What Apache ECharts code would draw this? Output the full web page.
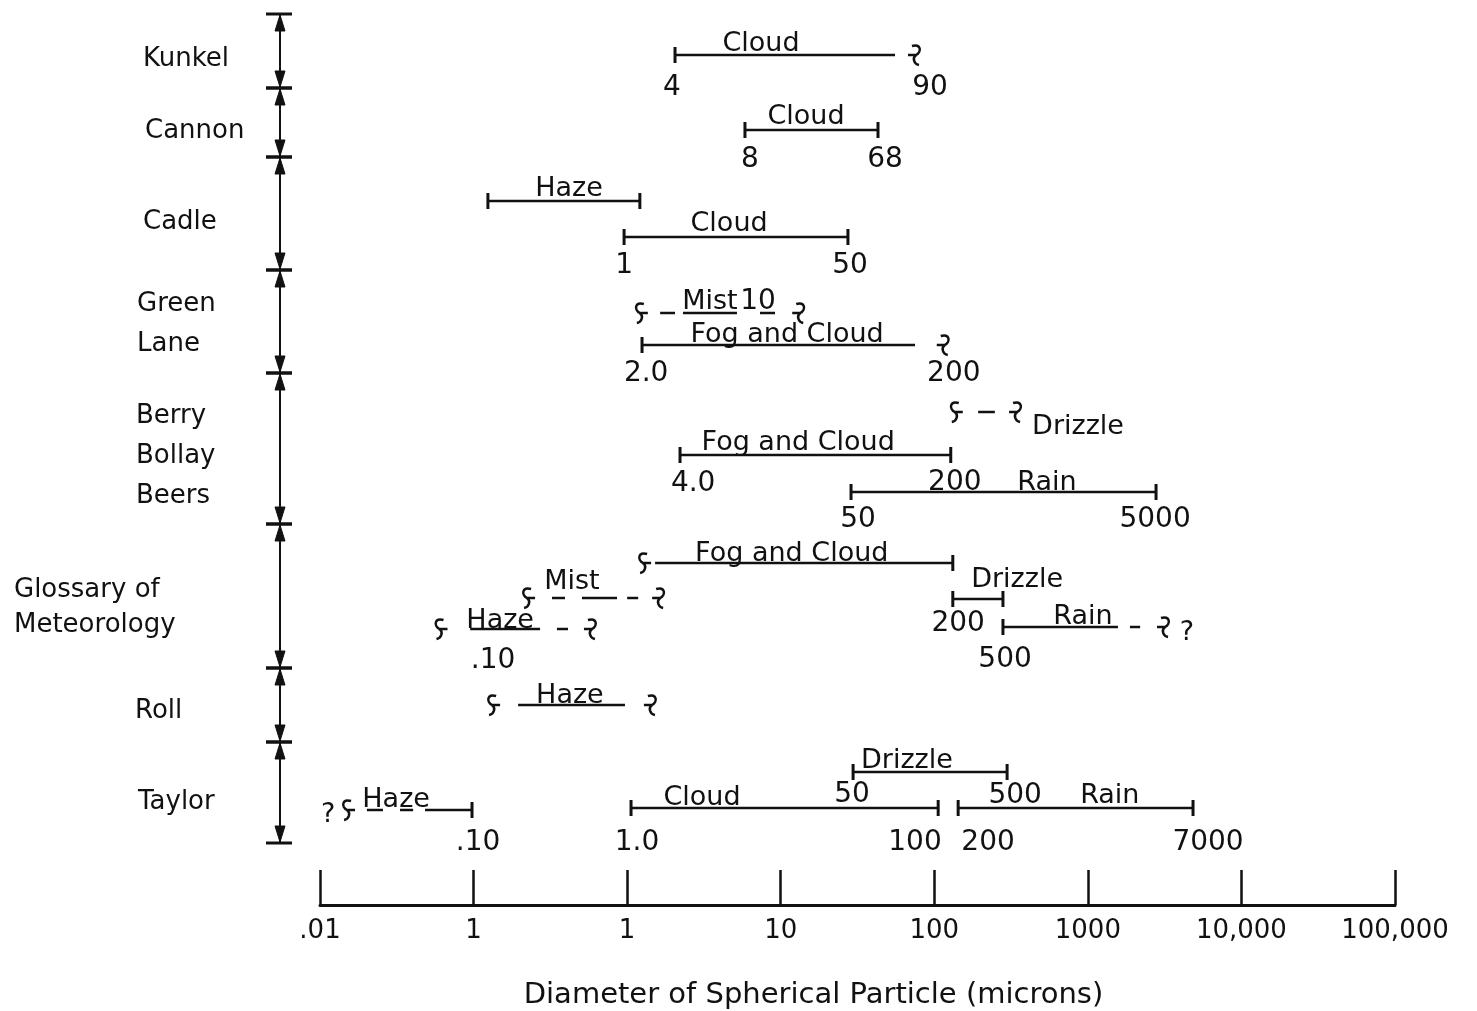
<!DOCTYPE html>
<html>
<head>
<meta charset="utf-8">
<script src="https://cdn.jsdelivr.net/npm/echarts@6/dist/echarts.min.js"></script>
<style>
html, body { margin: 0; background: #fff; }
#chart { width: 1477px; height: 1011px; }
</style>
</head>
<body>
<div id="chart"></div>
<script>
// axis labels as printed on the figure (decades .01 ... 100,000)
var tickLabels = ['.01', '1', '1', '10', '100', '1000', '10,000', '100,000'];

// observers, the level of their name and the limits of their band
var rowNames = ['Kunkel', 'Cannon', 'Cadle', 'Green\nLane', 'Berry\nBollay\nBeers', 'Glossary of\nMeteorology', 'Roll', 'Taylor'];
var rowMid = [56, 128, 219, 321, 453, 605, 708, 799];
var rowBounds = [14, 88, 157, 270, 373, 524, 668, 742, 843];

// drawn pieces of each size range: [from microns, to microns, level]
var segments = [
    [2.05, 55.5, 55],
    [5.85, 43, 130],
    [0.124, 1.21, 201], [0.955, 27.4, 237],
    [1.64, 2.05, 313], [2.31, 5.19, 313], [7.33, 9.18, 313], [1.25, 74.9, 345],
    [193, 248, 412], [2.21, 128, 455], [28.7, 2780, 492],
    [1.52, 132, 563], [0.324, 0.394, 598], [0.508, 0.859, 598], [1.0, 1.18, 598],
    [0.095, 0.271, 629], [0.349, 0.412, 629], [132, 280, 599], [280, 1570, 627], [1880, 2190, 627],
    [0.195, 0.968, 705],
    [0.0202, 0.0257, 810], [0.0332, 0.0404, 810], [0.0483, 0.0977, 810],
    [1.06, 106, 808], [29.6, 298, 772], [143, 4840, 808]
];

// firm limits: [microns, level]
var caps = [
    [2.05, 55],
    [5.85, 130], [43, 130],
    [0.124, 201], [1.21, 201], [0.955, 237], [27.4, 237],
    [1.25, 345],
    [2.21, 455], [128, 455], [28.7, 492], [2780, 492],
    [132, 563], [132, 599], [280, 599], [280, 627],
    [0.0977, 810], [1.06, 808], [106, 808], [29.6, 772], [298, 772], [143, 808], [4840, 808]
];

// vague limits: [microns, level, side of the range]
var squiggles = [
    [76, 55, 'R'],
    [1.21, 313, 'L'], [13.4, 313, 'R'], [117, 345, 'R'],
    [136, 412, 'L'], [346, 412, 'R'],
    [1.27, 563, 'L'], [0.223, 598, 'L'], [1.64, 598, 'R'], [0.060, 629, 'L'], [0.59, 629, 'R'], [3180, 627, 'R'],
    [0.132, 705, 'L'], [1.45, 705, 'R'],
    [0.015, 810, 'L']
];

// range names: [microns, level, text]
var words = [
    [7.44, 41, 'Cloud'],
    [14.6, 114, 'Cloud'],
    [0.418, 186, 'Haze'], [4.61, 221, 'Cloud'],
    [3.46, 299, 'Mist'], [11.0, 332, 'Fog and Cloud'],
    [863, 424, 'Drizzle'], [13.0, 440, 'Fog and Cloud'], [542, 480, 'Rain'],
    [11.8, 551, 'Fog and Cloud'], [0.437, 579, 'Mist'], [0.149, 618, 'Haze'], [346, 577, 'Drizzle'], [930, 614, 'Rain'], [4420, 630, '?'],
    [0.424, 693, 'Haze'],
    [0.0113, 812, '?'], [0.0313, 797, 'Haze'], [3.07, 795, 'Cloud'], [66.4, 758, 'Drizzle'], [1390, 793, 'Rain']
];

// limit values written beside the ranges: [microns, level, text]
var numbers = [
    [1.96, 85, '4'], [93.8, 85, '90'],
    [6.31, 157, '8'], [47.8, 157, '68'],
    [0.955, 263, '1'], [28.3, 263, '50'],
    [7.11, 299, '10'], [1.33, 371, '2.0'], [134, 371, '200'],
    [2.69, 481, '4.0'], [136, 480, '200'], [31.9, 517, '50'], [2740, 517, '5000'],
    [0.134, 658, '.10'], [143, 621, '200'], [289, 657, '500'],
    [0.107, 840, '.10'], [1.16, 840, '1.0'], [74.9, 840, '100'], [29.1, 792, '50'], [336, 793, '500'], [224, 840, '200'], [6060, 840, '7000']
];

var ink = '#111';
var font = '"DejaVu Sans", sans-serif';
var rowLabelLeft = [143, 145, 143, 137, 136, 14, 135, 138];
var rowLineHeight = [40, 40, 40, 40, 40, 35, 40, 40];
var textDrop = 3;

var chart = echarts.init(document.getElementById('chart'));

function renderSegment(params, api) {
    var s = segments[params.dataIndex];
    var a = api.coord([s[0], s[2]]);
    var b = api.coord([s[1], s[2]]);
    return {
        type: 'line',
        shape: { x1: a[0], y1: a[1], x2: b[0], y2: b[1] },
        style: { stroke: ink, lineWidth: 2.5 }
    };
}

function renderCap(params, api) {
    var p = api.coord([caps[params.dataIndex][0], caps[params.dataIndex][1]]);
    return {
        type: 'line',
        shape: { x1: p[0], y1: p[1] - 8, x2: p[0], y2: p[1] + 8 },
        style: { stroke: ink, lineWidth: 3 }
    };
}

function renderSquiggle(params, api) {
    var q = squiggles[params.dataIndex];
    var p = api.coord([q[0], q[1]]);
    var x = p[0], y = p[1];
    var d = q[2] === 'R' ? 1 : -1;
    var path = 'M' + (x - 4 * d) + ' ' + (y - 9) +
        ' C' + (x + 5 * d) + ' ' + (y - 12) + ' ' + (x + 6 * d) + ' ' + (y - 3) + ' ' + x + ' ' + y +
        ' M' + (x - 8 * d) + ' ' + y + ' L' + (x + 1 * d) + ' ' + y +
        ' M' + x + ' ' + y +
        ' C' + (x - 4 * d) + ' ' + (y + 3) + ' ' + (x - 2 * d) + ' ' + (y + 9) + ' ' + (x + 3 * d) + ' ' + (y + 10);
    return {
        type: 'path',
        shape: { pathData: path },
        style: { stroke: ink, lineWidth: 2.5, fill: null }
    };
}

function textRenderer(list, size) {
    return function (params, api) {
        var t = list[params.dataIndex];
        var p = api.coord([t[0], t[1]]);
        return {
            type: 'text',
            x: p[0],
            y: p[1] + textDrop,
            style: {
                text: t[2], fill: ink, fontSize: size, fontFamily: font,
                align: 'center', verticalAlign: 'middle'
            }
        };
    };
}

function renderRowName(params, api) {
    var i = params.dataIndex;
    var p = api.coord([0.01, rowMid[i]]);
    return {
        type: 'text',
        x: rowLabelLeft[i],
        y: p[1] + textDrop,
        style: {
            text: rowNames[i], fill: ink, fontSize: 26, fontFamily: font,
            align: 'left', verticalAlign: 'middle', lineHeight: rowLineHeight[i]
        }
    };
}

function renderBand(params, api) {
    var i = params.dataIndex;
    var x = api.coord([0.01, 0])[0] - 40;
    var y0 = api.coord([0.01, rowBounds[i]])[1];
    var y1 = api.coord([0.01, rowBounds[i + 1]])[1];
    var st = { fill: ink, stroke: ink, lineWidth: 1 };
    return {
        type: 'group',
        children: [
            { type: 'line', shape: { x1: x, y1: y0, x2: x, y2: y1 }, style: { stroke: ink, lineWidth: 2 } },
            { type: 'polygon', shape: { points: [[x, y0 + 1], [x - 5, y0 + 17], [x + 5, y0 + 17]] }, style: st },
            { type: 'polygon', shape: { points: [[x, y1 - 1], [x - 5, y1 - 17], [x + 5, y1 - 17]] }, style: st },
            { type: 'line', shape: { x1: x - 14, y1: y0, x2: x + 12, y2: y0 }, style: { stroke: ink, lineWidth: 3 } },
            { type: 'line', shape: { x1: x - 14, y1: y1, x2: x + 12, y2: y1 }, style: { stroke: ink, lineWidth: 3 } }
        ]
    };
}

function pairs(list) {
    return list.map(function (d) { return [d[0], d[1]]; });
}

var option = {
    backgroundColor: '#fff',
    animation: false,
    grid: { left: 320, right: 82, top: 0, bottom: 106, outerBoundsMode: 'none' },
    xAxis: {
        type: 'log',
        logBase: 10,
        min: 0.01,
        max: 100000,
        position: 'bottom',
        name: 'Diameter of Spherical Particle (microns)',
        nameLocation: 'middle',
        nameGap: 76,
        nameTextStyle: { color: ink, fontSize: 29, fontFamily: font, padding: [0, 88, 0, 0] },
        axisLine: { onZero: false, lineStyle: { color: ink, width: 3 } },
        axisTick: { inside: true, length: 35, lineStyle: { color: ink, width: 2.5 } },
        minorTick: { show: false },
        splitLine: { show: false },
        axisLabel: {
            color: ink,
            fontSize: 26,
            fontFamily: font,
            margin: 13,
            formatter: function (v) {
                return tickLabels[Math.round(Math.log10(v)) + 2];
            }
        }
    },
    yAxis: { type: 'value', min: 0, max: 905, inverse: true, show: false },
    series: [
        { type: 'custom', clip: false, renderItem: renderBand, data: rowNames.map(function (n, i) { return [0.01, rowMid[i]]; }) },
        { type: 'custom', clip: false, renderItem: renderRowName, data: rowNames.map(function (n, i) { return [0.01, rowMid[i]]; }) },
        { type: 'custom', clip: false, renderItem: renderSegment, data: segments.map(function (s) { return [s[0], s[2]]; }) },
        { type: 'custom', clip: false, renderItem: renderCap, data: pairs(caps) },
        { type: 'custom', clip: false, renderItem: renderSquiggle, data: pairs(squiggles) },
        { type: 'custom', clip: false, renderItem: textRenderer(words, 27), data: pairs(words) },
        { type: 'custom', clip: false, renderItem: textRenderer(numbers, 28), data: pairs(numbers) }
    ]
};

chart.setOption(option);
</script>
</body>
</html>
